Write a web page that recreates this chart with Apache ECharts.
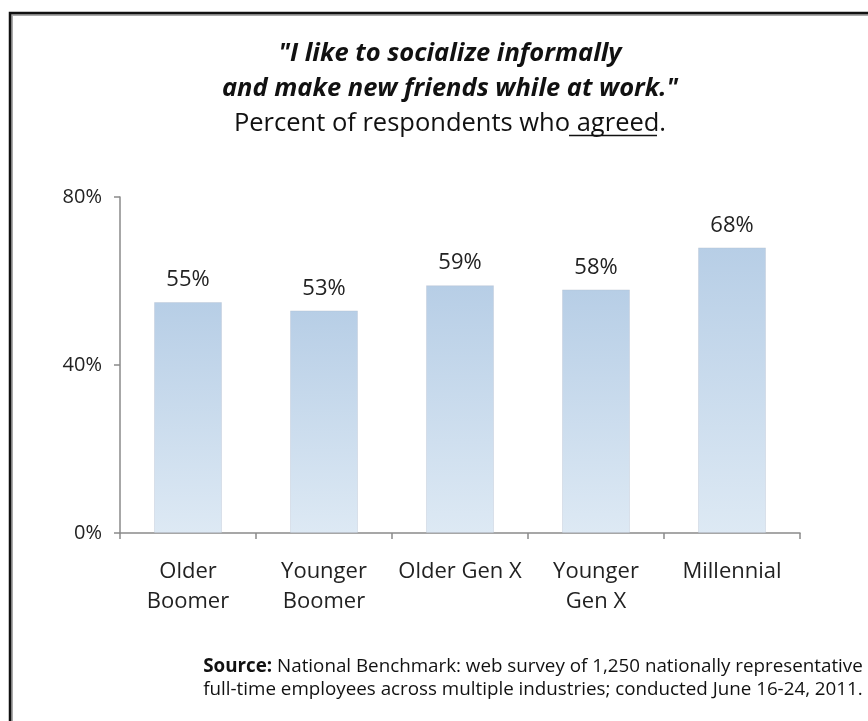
<!DOCTYPE html>
<html>
<head>
<meta charset="utf-8">
<script src="https://cdn.jsdelivr.net/npm/echarts@6/dist/echarts.min.js"></script>
<style>html,body{margin:0;padding:0;background:#fff;}#c{width:868px;height:721px;}</style>
</head>
<body>
<div id="c"></div>
<script>
const categories = ['Older\nBoomer', 'Younger\nBoomer', 'Older Gen X', 'Younger\nGen X', 'Millennial'];
const agreedPercent = [55, 53, 59, 58, 68];
const yTicks = [0, 40, 80];

const FONT = 'Open Sans';
const TITLE_X = 445;
const subText = 'Percent of respondents who agreed.';

const chart = echarts.init(document.getElementById('c'), null, {renderer: 'canvas'});
chart.setOption({
  backgroundColor: '#fff',
  animation: false,
  title: [{
    left: TITLE_X, top: 31, textAlign: 'center',
    text: '{a|"I like to socialize informally}\n{a|and make new friends while at work."}\n{b|' + subText + '}',
    textStyle: {
      fontWeight: 'normal',
      rich: {
        a: {fontFamily: FONT, fontSize: 25.5, fontStyle: 'italic', fontWeight: 'bold', color: '#111', lineHeight: 35, align: 'center'},
        b: {fontFamily: FONT, fontSize: 25.5, fontWeight: 'normal', color: '#111', lineHeight: 35, align: 'center'}
      }
    }
  }, {
    left: 528, top: 650, textAlign: 'center',
    text: '{s|Source:}{n| National Benchmark: web survey of 1,250 nationally representative}\n{n|full-time employees across multiple industries; conducted June 16-24, 2011.}',
    textStyle: {
      fontWeight: 'normal',
      rich: {
        s: {fontFamily: FONT, fontSize: 18.8, fontWeight: 'bold', color: '#111', lineHeight: 23},
        n: {fontFamily: FONT, fontSize: 18.8, fontWeight: 'normal', color: '#111', lineHeight: 23}
      }
    }
  }],
  grid: {left: 120, right: 68, top: 197, bottom: 188, containLabel: false},
  xAxis: {
    type: 'category',
    data: categories,
    axisLine: {lineStyle: {color: '#8a8a8a', width: 1.5}},
    axisTick: {show: true, length: 6, lineStyle: {color: '#8a8a8a', width: 1.5}},
    axisLabel: {fontFamily: FONT, fontSize: 22, color: '#222', margin: 24, lineHeight: 30, interval: 0}
  },
  yAxis: {
    type: 'value', min: yTicks[0], max: yTicks[yTicks.length - 1], interval: 40,
    axisLine: {show: true, lineStyle: {color: '#8a8a8a', width: 1.5}},
    axisTick: {show: true, length: 6, lineStyle: {color: '#8a8a8a', width: 1.5}},
    splitLine: {show: false},
    axisLabel: {fontFamily: FONT, fontSize: 20, color: '#222', margin: 18, formatter: '{value}%'}
  },
  series: [{
    type: 'bar',
    data: agreedPercent,
    barWidth: '50%',
    itemStyle: {
      color: new echarts.graphic.LinearGradient(0, 0, 0, 1, [
        {offset: 0, color: '#b7cee6'},
        {offset: 1, color: '#dde9f4'}
      ]),
      borderColor: 'rgba(180,190,205,0.35)', borderWidth: 1
    },
    label: {show: true, position: 'top', distance: 11, fontFamily: FONT, fontSize: 22, color: '#222', formatter: '{c}%'}
  }],
  graphic: [
    {type: 'polyline', shape: {points: [[12, 721], [12, 15], [868, 15]]}, style: {stroke: '#aaa', lineWidth: 2, fill: null}, silent: true},
    {type: 'polyline', shape: {points: [[10, 721], [10, 13], [868, 13]]}, style: {stroke: '#111', lineWidth: 2.5, fill: null}, silent: true},
    {type: 'line', shape: {x1: 569, y1: 135.5, x2: 657, y2: 135.5}, style: {stroke: '#111', lineWidth: 1.5}, silent: true}
  ]
});
</script>
</body>
</html>
